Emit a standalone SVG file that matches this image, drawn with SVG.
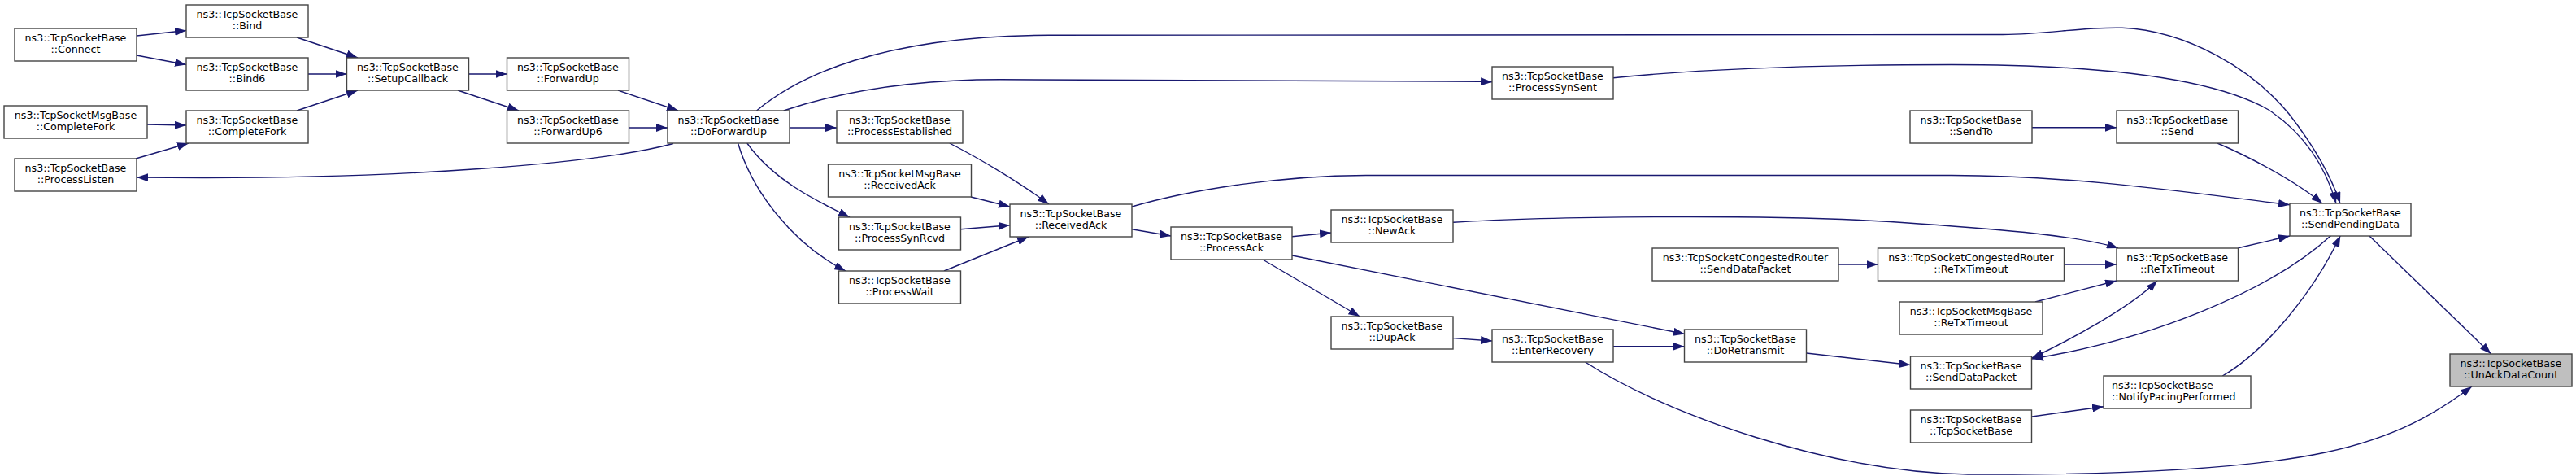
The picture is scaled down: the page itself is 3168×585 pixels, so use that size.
<svg xmlns="http://www.w3.org/2000/svg" width="3168" height="585" viewBox="0 0 3168 585">
<style>
.node rect{fill:#fff;stroke:#444;stroke-width:1.4}
.hl rect{fill:#bfbfbf}
text{font-family:"DejaVu Sans","Liberation Sans",sans-serif;font-size:12.65px;fill:#000;text-anchor:middle}
text.l{text-anchor:start}
.edges path{fill:none;stroke:#191970;stroke-width:1.4;marker-end:url(#arr)}
</style>
<defs>
<marker id="arr" viewBox="0 0 14 10" refX="14" refY="5" markerWidth="14" markerHeight="10" markerUnits="userSpaceOnUse" orient="auto"><path d="M0,0 L14,5 L0,10 z" fill="#191970"/></marker>
<marker id="arrs" viewBox="0 0 14 10" refX="14" refY="5" markerWidth="14" markerHeight="10" markerUnits="userSpaceOnUse" orient="auto-start-reverse"><path d="M0,0 L14,5 L0,10 z" fill="#191970"/></marker>
</defs>
<rect width="3168" height="585" fill="#fff"/>
<g class="edges">
<path d="M168,44 L229,37.5"/>
<path d="M168,68 L229,79.5"/>
<path d="M365,46 L440,71"/>
<path d="M379,91 L426.5,91"/>
<path d="M365,136 L440,111"/>
<path d="M181,153 L229,154"/>
<path d="M167,195 L232,176"/>
<path d="M576.5,91 L623.5,91"/>
<path d="M563,111 L638,136"/>
<path d="M760,111 L834,136"/>
<path d="M773.5,157 L821,157"/>
<path d="M828,176.5 C740,200 500,222 168,218"/>
<path d="M971,157 L1029,157"/>
<path d="M930.5,136 C980,95 1080,44 1290,43.3 L2463,42.5 C2520,42 2560,33 2610,34.3 C2690,38 2770,85 2815,140 C2850,185 2868,220 2878,250"/>
<path d="M963.7,136 C1030,114 1120,97.8 1230,97.8 L1820,100.2 L1835,100.7"/>
<path d="M1984,95.7 C2100,84 2250,79.5 2400,79.5 C2580,79.5 2720,95 2790,135 C2835,165 2860,205 2873,250"/>
<path d="M1167.8,176 C1205,195 1255,225 1290,251"/>
<path d="M1194,242 L1242,254"/>
<path d="M1181.5,281.7 L1242,276.7"/>
<path d="M1161,333 L1265,291"/>
<path d="M918.8,176 C950,220 1000,245 1045,267"/>
<path d="M907.6,176 C925,235 975,300 1040,333"/>
<path d="M1392,281.7 L1440,290"/>
<path d="M1392,254 C1460,234 1570,216 1680,215.5 L2400,215.5 C2560,216 2700,238 2816,251.7"/>
<path d="M1589,290.7 L1637,286"/>
<path d="M1553,319 L1672.4,389"/>
<path d="M1589,314 L2072,410.5"/>
<path d="M1787,415.6 L1835,419"/>
<path d="M1984,425.8 L2071.5,425.8"/>
<path d="M2221.6,434 L2349.5,448.5"/>
<path d="M1949.6,445 C2050,510 2250,580 2420,583 C2600,584 2760,577 2860,556 C2950,537 3000,505 3040,475"/>
<path d="M2914,290 L3063.6,435"/>
<path d="M2499,156.7 L2603,156.7"/>
<path d="M2727,176 C2760,190 2820,220 2856,250"/>
<path d="M1787,273.3 C1900,266 2200,262 2360,275 C2460,282 2560,290 2605,305"/>
<path d="M2261,325 L2309.5,325"/>
<path d="M2538.5,325 L2603,325"/>
<path d="M2503,371 L2603,345"/>
<path d="M2752.5,304.7 L2816,290"/>
<path d="M2499,440 C2545,418 2620,378 2653,345" marker-start="url(#arrs)"/>
<path d="M2866.7,289.5 C2790,360 2640,418 2499,441"/>
<path d="M2733.3,462 C2785,432 2845,360 2878.3,289.5"/>
<path d="M2499,512 L2587,499.7"/>
</g>
<g id="n_connect" class="node"><rect x="18" y="35" width="150" height="40"/><text x="93" y="51.3">ns3::TcpSocketBase</text><text x="93" y="65.3">::Connect</text></g>
<g id="n_bind" class="node"><rect x="229" y="6" width="150" height="40"/><text x="304" y="22.3">ns3::TcpSocketBase</text><text x="304" y="36.3">::Bind</text></g>
<g id="n_bind6" class="node"><rect x="229" y="71" width="150" height="40"/><text x="304" y="87.3">ns3::TcpSocketBase</text><text x="304" y="101.3">::Bind6</text></g>
<g id="n_msgcf" class="node"><rect x="5" y="130" width="176" height="40"/><text x="93" y="146.3">ns3::TcpSocketMsgBase</text><text x="93" y="160.3">::CompleteFork</text></g>
<g id="n_cf" class="node"><rect x="229" y="136" width="150" height="40"/><text x="304" y="152.3">ns3::TcpSocketBase</text><text x="304" y="166.3">::CompleteFork</text></g>
<g id="n_pl" class="node"><rect x="18" y="195" width="150" height="40"/><text x="93" y="211.3">ns3::TcpSocketBase</text><text x="93" y="225.3">::ProcessListen</text></g>
<g id="n_setup" class="node"><rect x="426.5" y="71" width="150" height="40"/><text x="501.5" y="87.3">ns3::TcpSocketBase</text><text x="501.5" y="101.3">::SetupCallback</text></g>
<g id="n_fu" class="node"><rect x="623.5" y="71" width="150" height="40"/><text x="698.5" y="87.3">ns3::TcpSocketBase</text><text x="698.5" y="101.3">::ForwardUp</text></g>
<g id="n_fu6" class="node"><rect x="623.5" y="136" width="150" height="40"/><text x="698.5" y="152.3">ns3::TcpSocketBase</text><text x="698.5" y="166.3">::ForwardUp6</text></g>
<g id="n_dfu" class="node"><rect x="821" y="136" width="150" height="40"/><text x="896" y="152.3">ns3::TcpSocketBase</text><text x="896" y="166.3">::DoForwardUp</text></g>
<g id="n_pe" class="node"><rect x="1029" y="136" width="155" height="40"/><text x="1106.5" y="152.3">ns3::TcpSocketBase</text><text x="1106.5" y="166.3">::ProcessEstablished</text></g>
<g id="n_msgra" class="node"><rect x="1018.5" y="202" width="176" height="40"/><text x="1106.5" y="218.3">ns3::TcpSocketMsgBase</text><text x="1106.5" y="232.3">::ReceivedAck</text></g>
<g id="n_psr" class="node"><rect x="1031.5" y="267" width="150" height="40"/><text x="1106.5" y="283.3">ns3::TcpSocketBase</text><text x="1106.5" y="297.3">::ProcessSynRcvd</text></g>
<g id="n_pw" class="node"><rect x="1031.5" y="333" width="150" height="40"/><text x="1106.5" y="349.3">ns3::TcpSocketBase</text><text x="1106.5" y="363.3">::ProcessWait</text></g>
<g id="n_ra" class="node"><rect x="1242" y="251" width="150" height="40"/><text x="1317" y="267.3">ns3::TcpSocketBase</text><text x="1317" y="281.3">::ReceivedAck</text></g>
<g id="n_pa" class="node"><rect x="1440" y="279" width="149" height="40"/><text x="1514.5" y="295.3">ns3::TcpSocketBase</text><text x="1514.5" y="309.3">::ProcessAck</text></g>
<g id="n_pss" class="node"><rect x="1835" y="82" width="149" height="40"/><text x="1909.5" y="98.3">ns3::TcpSocketBase</text><text x="1909.5" y="112.3">::ProcessSynSent</text></g>
<g id="n_na" class="node"><rect x="1637" y="258" width="150" height="40"/><text x="1712" y="274.3">ns3::TcpSocketBase</text><text x="1712" y="288.3">::NewAck</text></g>
<g id="n_da" class="node"><rect x="1637" y="389" width="150" height="40"/><text x="1712" y="405.3">ns3::TcpSocketBase</text><text x="1712" y="419.3">::DupAck</text></g>
<g id="n_er" class="node"><rect x="1835" y="405" width="149" height="40"/><text x="1909.5" y="421.3">ns3::TcpSocketBase</text><text x="1909.5" y="435.3">::EnterRecovery</text></g>
<g id="n_dr" class="node"><rect x="2071.5" y="405" width="150" height="40"/><text x="2146.5" y="421.3">ns3::TcpSocketBase</text><text x="2146.5" y="435.3">::DoRetransmit</text></g>
<g id="n_crsdp" class="node"><rect x="2032" y="305" width="229" height="40"/><text x="2146.5" y="321.3">ns3::TcpSocketCongestedRouter</text><text x="2146.5" y="335.3">::SendDataPacket</text></g>
<g id="n_crrto" class="node"><rect x="2309.5" y="305" width="229" height="40"/><text x="2424" y="321.3">ns3::TcpSocketCongestedRouter</text><text x="2424" y="335.3">::ReTxTimeout</text></g>
<g id="n_msgrto" class="node"><rect x="2336" y="371" width="176" height="40"/><text x="2424" y="387.3">ns3::TcpSocketMsgBase</text><text x="2424" y="401.3">::ReTxTimeout</text></g>
<g id="n_sdp" class="node"><rect x="2349.5" y="438" width="149" height="40"/><text x="2424" y="454.3">ns3::TcpSocketBase</text><text x="2424" y="468.3">::SendDataPacket</text></g>
<g id="n_tsb" class="node"><rect x="2349.5" y="504" width="149" height="40"/><text x="2424" y="520.3">ns3::TcpSocketBase</text><text x="2424" y="534.3">::TcpSocketBase</text></g>
<g id="n_sendto" class="node"><rect x="2349" y="136" width="150" height="40"/><text x="2424" y="152.3">ns3::TcpSocketBase</text><text x="2424" y="166.3">::SendTo</text></g>
<g id="n_send" class="node"><rect x="2603" y="136" width="149.5" height="40"/><text x="2677.75" y="152.3">ns3::TcpSocketBase</text><text x="2677.75" y="166.3">::Send</text></g>
<g id="n_rto" class="node"><rect x="2603" y="305" width="149.5" height="40"/><text x="2677.75" y="321.3">ns3::TcpSocketBase</text><text x="2677.75" y="335.3">::ReTxTimeout</text></g>
<g id="n_npp" class="node"><rect x="2587" y="462" width="181" height="40"/><text class="l" x="2597" y="478.3">ns3::TcpSocketBase</text><text class="l" x="2597" y="492.3">::NotifyPacingPerformed</text></g>
<g id="n_spd" class="node"><rect x="2816" y="250" width="149" height="40"/><text x="2890.5" y="266.3">ns3::TcpSocketBase</text><text x="2890.5" y="280.3">::SendPendingData</text></g>
<g id="n_uadc" class="node hl"><rect x="3013" y="435" width="150" height="40"/><text x="3088" y="451.3">ns3::TcpSocketBase</text><text x="3088" y="465.3">::UnAckDataCount</text></g>
</svg>
